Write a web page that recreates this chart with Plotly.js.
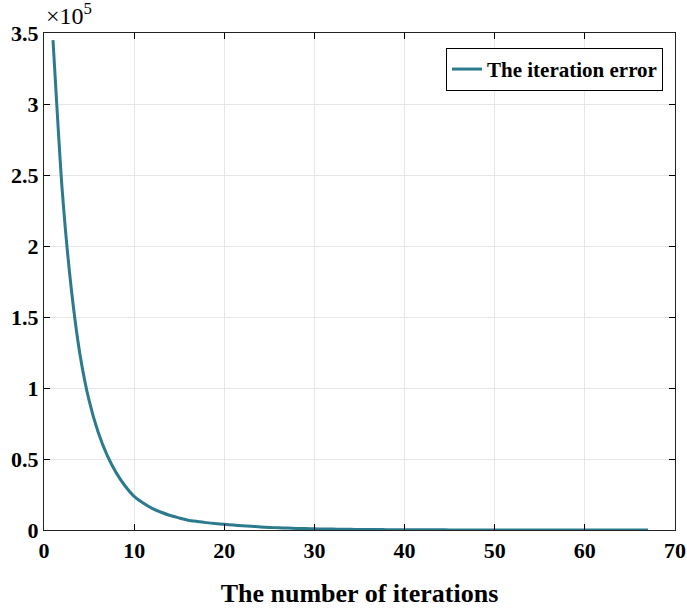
<!DOCTYPE html>
<html>
<head>
<meta charset="utf-8">
<script src="https://cdn.plot.ly/plotly-3.0.1.min.js"></script>
<style>html,body{margin:0;padding:0;background:#fff;}#chart{width:687px;height:608px;}</style>
</head>
<body>
<div id="chart"></div>
<script>
const iterations = [1,2,3,4,5,6,7,8,9,10,11,12,13,14,15,16,17,18,19,20,21,22,23,24,25,26,27,28,29,30,31,32,33,34,35,36,37,38,39,40,41,42,43,44,45,46,47,48,49,50,51,52,53,54,55,56,57,58,59,60,61,62,63,64,65,66,67];
const iterationError = [345000,241000,171500,123300,91300,69000,52700,40400,31000,23700,19000,15200,12500,10200,8500,6900,6000,5200,4500,4000,3500,3000,2600,2100,1800,1550,1330,1140,980,840,720,620,530,460,390,340,290,250,210,180,155,133,115,99,85,73,63,54,46,40,34,29,25,22,19,16,14,12,10,9,8,7,6,5,4,4,3];
const yTickVals = [0,50000,100000,150000,200000,250000,300000,350000];
const yTickText = ['0','0.5','1','1.5','2','2.5','3','3.5'];
const xTickVals = [0,10,20,30,40,50,60,70];
const seriesName = 'The iteration error';

const font = 'Liberation Serif, Times New Roman, serif';
const data = [{
  x: iterations, y: iterationError, type: 'scatter', mode: 'lines',
  name: seriesName,
  line: {color: '#2b7a8d', width: 3, shape: 'spline', smoothing: 0.6}
}];
const layout = {
  width: 687, height: 608,
  margin: {l: 44, r: 12, t: 33, b: 78},
  paper_bgcolor: '#fff', plot_bgcolor: '#fff',
  font: {family: font, color: '#000'},
  showlegend: true,
  legend: {
    x: 0.981, y: 0.97, xanchor: 'right', yanchor: 'top',
    bgcolor: '#fff', bordercolor: '#000', borderwidth: 1,
    font: {family: font, size: 21, color: '#000', weight: 'bold'}
  },
  xaxis: {
    range: [0, 70], tickvals: xTickVals,
    ticks: 'inside', ticklen: 6, tickwidth: 1, tickcolor: '#000',
    showline: true, linecolor: '#222', linewidth: 1.2, mirror: 'ticks',
    showgrid: true, gridcolor: '#e6e6e6', gridwidth: 1, zeroline: false,
    tickfont: {family: font, size: 22, color: '#000', weight: 'bold'},
    title: {text: 'The number of iterations', standoff: 22,
      font: {family: font, size: 26, color: '#000', weight: 'bold'}}
  },
  yaxis: {
    range: [0, 350000], tickvals: yTickVals, ticktext: yTickText,
    ticks: 'inside', ticklen: 6, tickwidth: 1, tickcolor: '#000',
    showline: true, linecolor: '#222', linewidth: 1.2, mirror: 'ticks',
    showgrid: true, gridcolor: '#e6e6e6', gridwidth: 1, zeroline: false,
    tickfont: {family: font, size: 22, color: '#000', weight: 'bold'}
  },
  annotations: [{
    xref: 'paper', yref: 'paper', x: 0, y: 1, xanchor: 'left', yanchor: 'bottom',
    text: '×10<sup>5</sup>', showarrow: false, xshift: 0, yshift: 2,
    font: {family: font, size: 24, color: '#000'}
  }]
};
Plotly.newPlot('chart', data, layout, {displayModeBar: false});
</script>
</body>
</html>
